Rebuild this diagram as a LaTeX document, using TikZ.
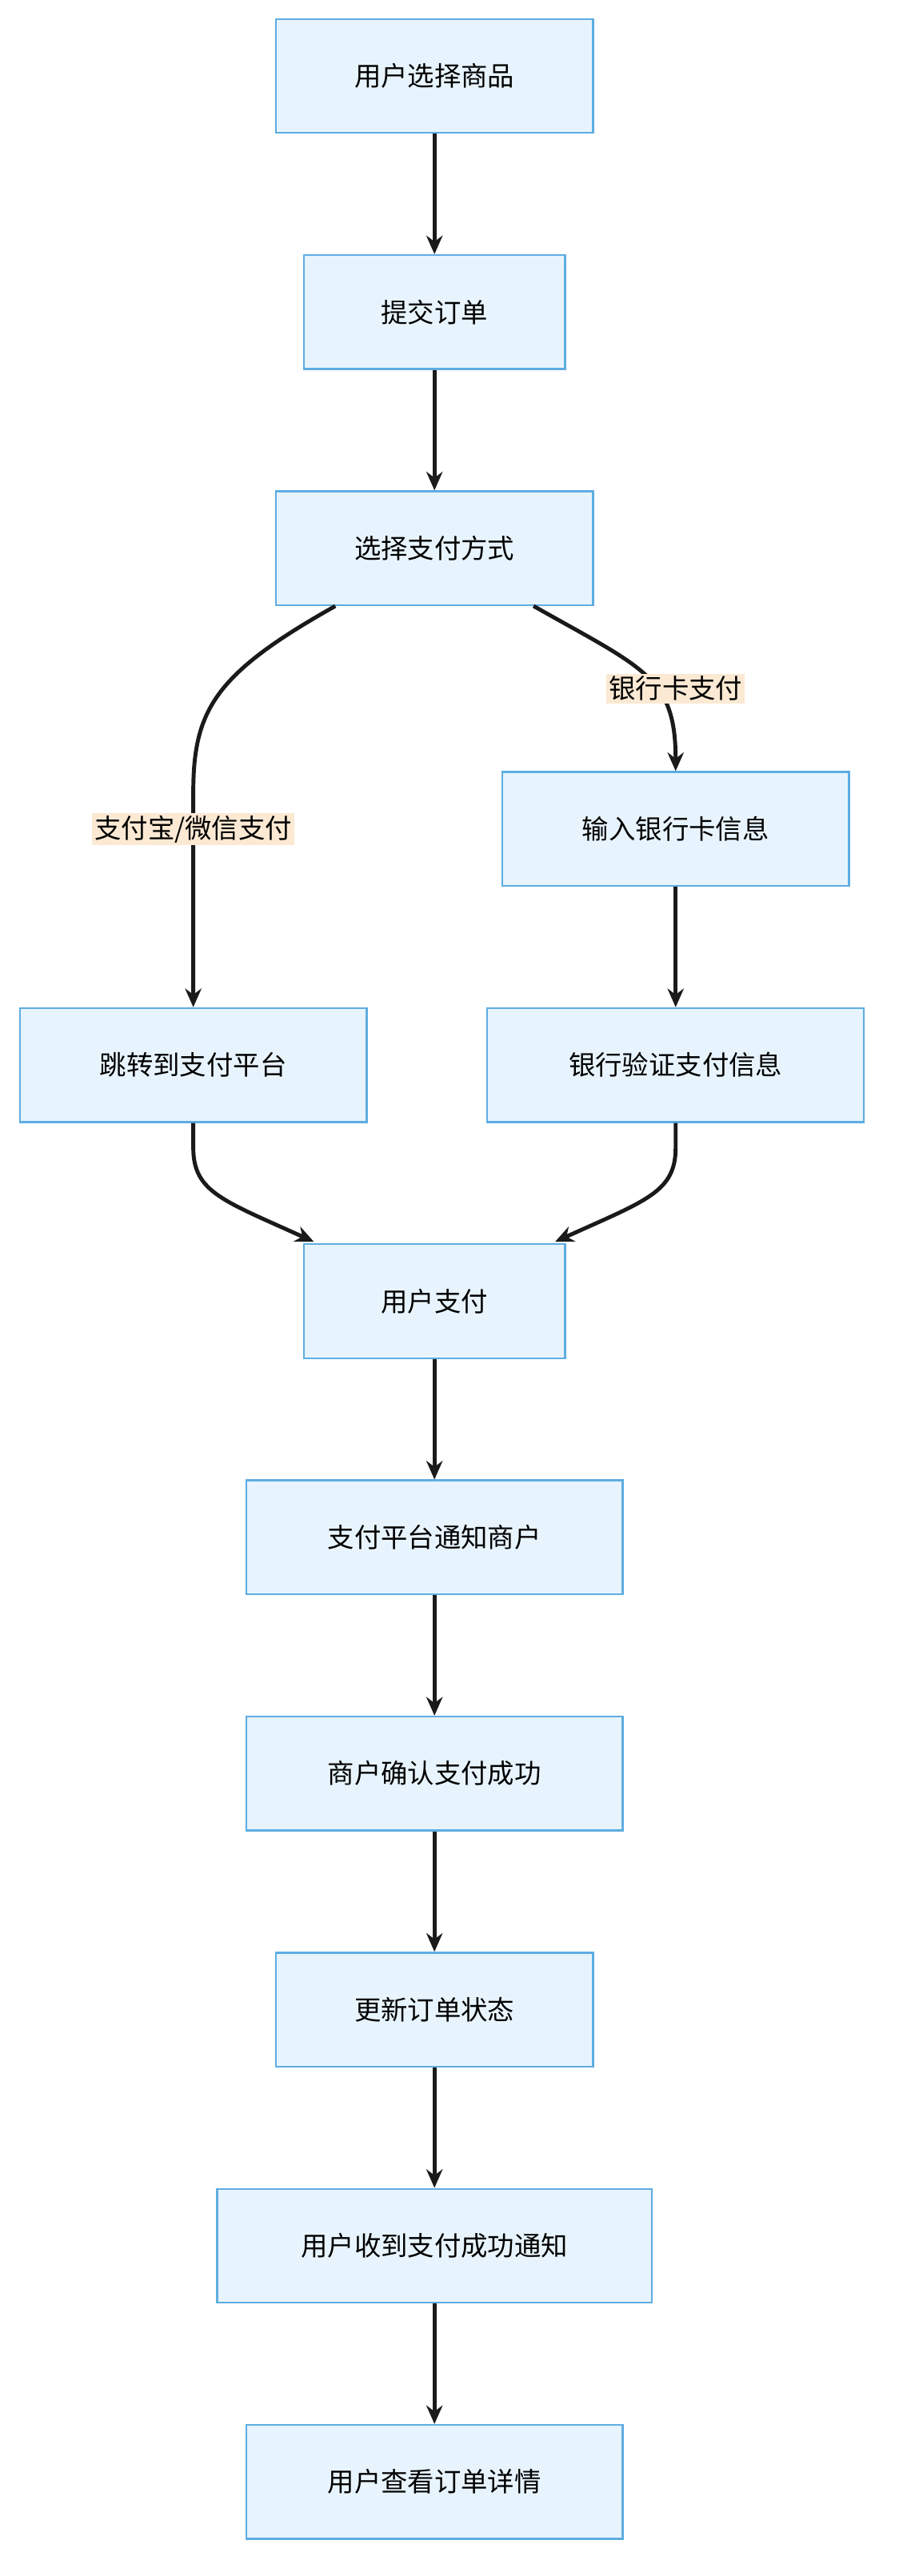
\documentclass[tikz,border=0pt]{standalone}
\usepackage{fontspec}
\newfontfamily\cjk{Noto Sans CJK SC}
\usetikzlibrary{arrows.meta}
\definecolor{boxfill}{HTML}{E8F4FD}
\definecolor{boxline}{HTML}{5DADE2}
\definecolor{tagfill}{HTML}{FBE9D3}
\definecolor{arrowcol}{HTML}{1A1A1A}
\tikzset{
  box/.style={draw=boxline, fill=boxfill, line width=1.6pt, minimum height=3.45cm,
    font=\cjk\fontsize{23pt}{27pt}\selectfont, inner sep=0pt},
  tag/.style={fill=tagfill, font=\cjk\fontsize{23pt}{27pt}\selectfont, inner sep=2pt},
  flow/.style={draw=arrowcol, line width=3.4pt, -{Stealth[length=16pt,width=14pt]}}
}
\begin{document}
\begin{tikzpicture}[x=0.05cm,y=-0.05cm]
    \useasboundingbox (0,0) rectangle (549,1560);
    % main column
    \node[box, minimum width=9.6cm] (pick) at (263,46) {用户选择商品};
    \node[box, minimum width=7.9cm] (order) at (263,189) {提交订单};
    \node[box, minimum width=9.6cm] (method) at (263,332) {选择支付方式};
    \node[box, minimum width=10.5cm] (cardin) at (409,502) {输入银行卡信息};
    \node[box, minimum width=10.5cm] (jump) at (117,645) {跳转到支付平台};
    \node[box, minimum width=11.4cm] (verify) at (409,645) {银行验证支付信息};
    \node[box, minimum width=7.9cm] (pay) at (263,788) {用户支付};
    \node[box, minimum width=11.4cm] (notify) at (263,931) {支付平台通知商户};
    \node[box, minimum width=11.4cm] (confirm) at (263,1074) {商户确认支付成功};
    \node[box, minimum width=9.6cm] (update) at (263,1217) {更新订单状态};
    \node[box, minimum width=13.15cm] (recv) at (263,1360) {用户收到支付成功通知};
    \node[box, minimum width=11.4cm] (detail) at (263,1503) {用户查看订单详情};
    % straight links
    \draw[flow] (pick) -- (order);
    \draw[flow] (order) -- (method);
    \draw[flow] (cardin) -- (verify);
    \draw[flow] (pay) -- (notify);
    \draw[flow] (notify) -- (confirm);
    \draw[flow] (confirm) -- (update);
    \draw[flow] (update) -- (recv);
    \draw[flow] (recv) -- (detail);
    % branches
    \coordinate (m1) at (203,367);
    \coordinate (m2) at (323,367);
    \draw[flow] (m1) .. controls (130,408) and (117,430) .. (117,480) -- (jump.north);
    \draw[flow] (m2) .. controls (390,405) and (409,410) .. (cardin.north);
    \node[tag] (alipay) at (117,502) {支付宝/微信支付};
    \node[tag] (card) at (409,417) {银行卡支付};
    % merge
    \coordinate (p1) at (190,752);
    \coordinate (p2) at (336,752);
    \draw[flow] (jump.south) -- (117,695) .. controls (117,722) and (135,727) .. (p1);
    \draw[flow] (verify.south) -- (409,695) .. controls (409,722) and (391,727) .. (p2);
\end{tikzpicture}
\end{document}
